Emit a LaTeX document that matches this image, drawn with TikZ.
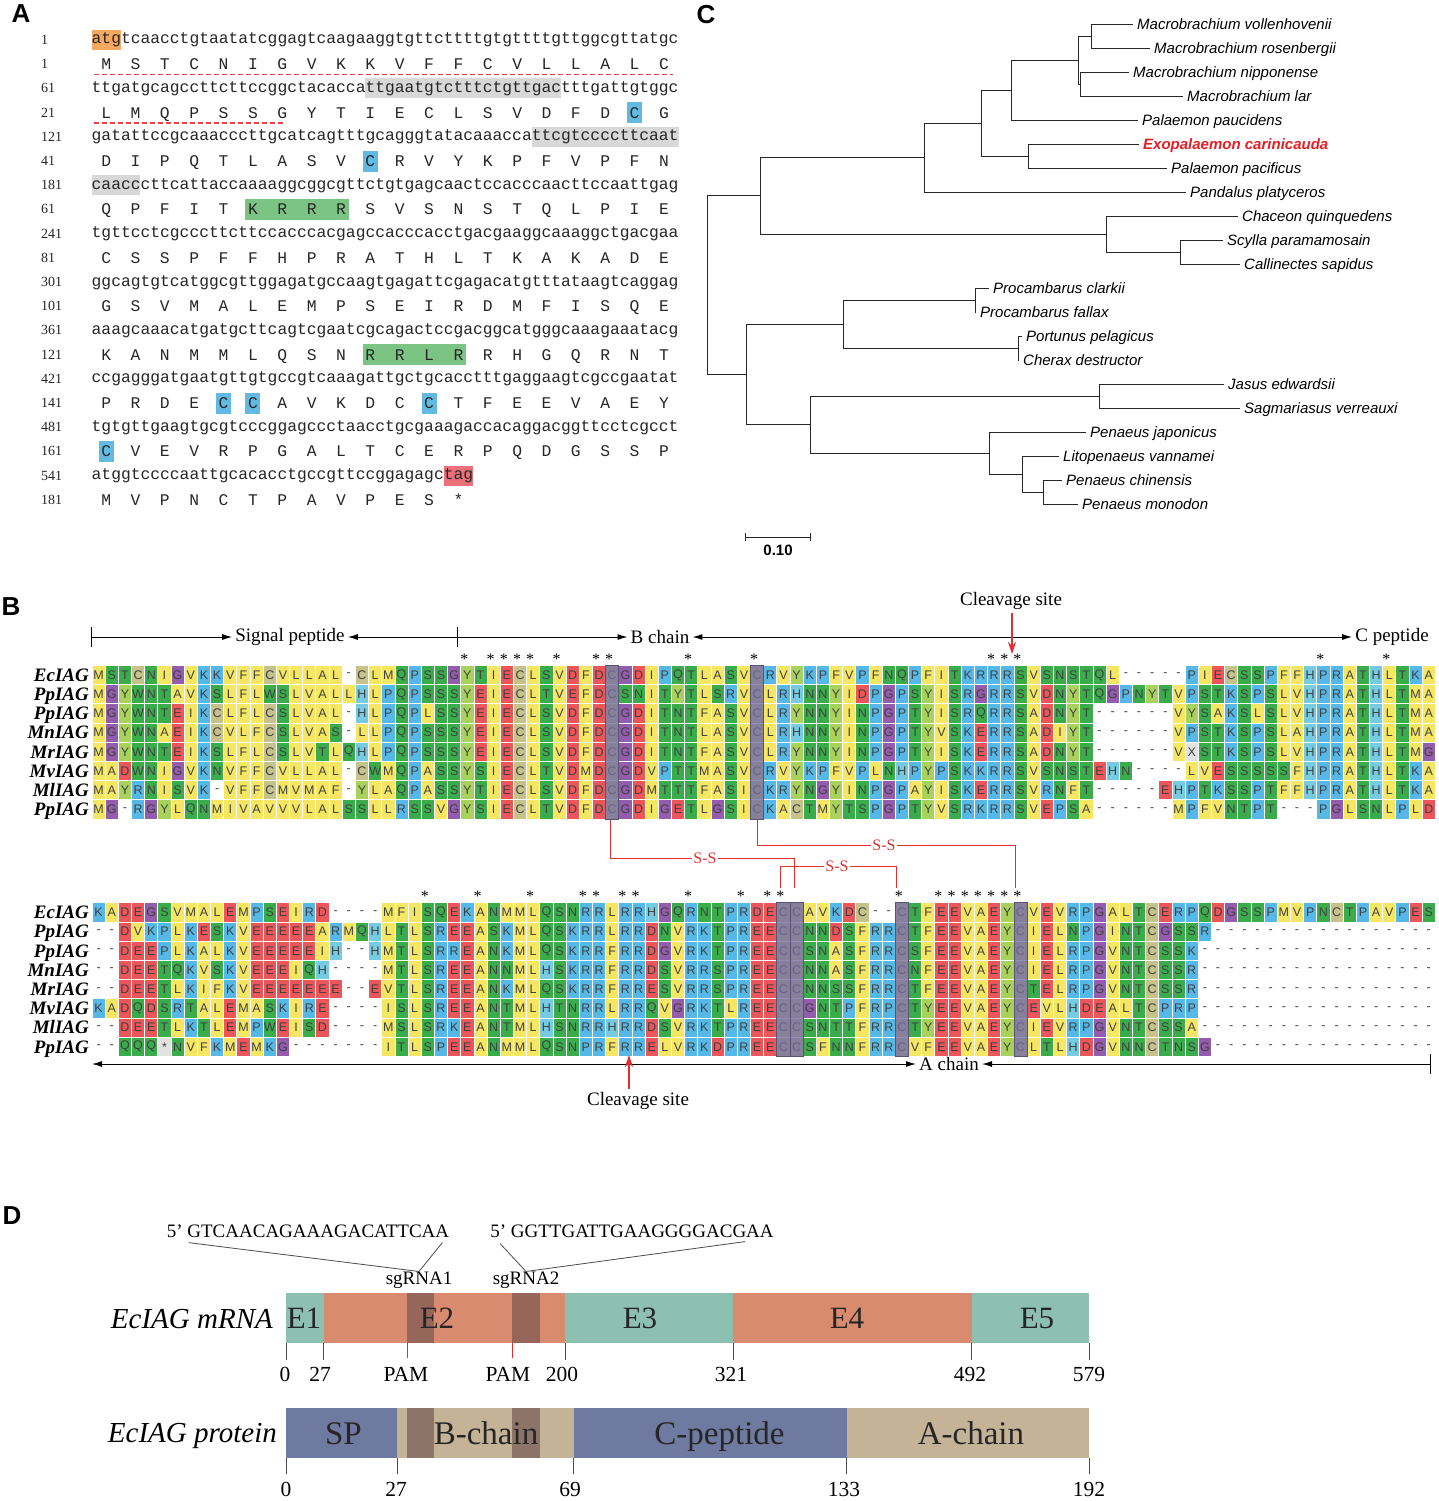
\documentclass[tikz,border=0pt]{standalone}
\usepackage{fontspec}
\setmainfont{Liberation Serif}
\setsansfont{Liberation Sans}
\newfontfamily\dnafont{Liberation Mono}
\usetikzlibrary{arrows.meta}

\definecolor{hyd}{RGB}{245,231,99}
\definecolor{pol}{RGB}{58,172,76}
\definecolor{cys}{RGB}{198,194,140}
\definecolor{gly}{RGB}{148,92,172}
\definecolor{bas}{RGB}{86,184,230}
\definecolor{his}{RGB}{118,203,224}
\definecolor{tyr}{RGB}{168,210,92}
\definecolor{acd}{RGB}{234,86,90}
\definecolor{unk}{RGB}{226,226,226}
\definecolor{cysbar}{RGB}{116,110,158}
\definecolor{hlorange}{RGB}{244,168,98}
\definecolor{hlgrey}{RGB}{216,216,216}
\definecolor{hlblue}{RGB}{98,186,226}
\definecolor{hlgreen}{RGB}{124,196,132}
\definecolor{hlred}{RGB}{236,112,122}
\definecolor{sigred}{RGB}{236,64,76}
\definecolor{ssred}{RGB}{226,48,48}
\definecolor{exteal}{RGB}{142,192,178}
\definecolor{exsalmon}{RGB}{217,139,112}
\definecolor{expatch}{RGB}{150,102,90}
\definecolor{protslate}{RGB}{111,122,160}
\definecolor{prottan}{RGB}{197,179,152}
\definecolor{protpatch}{RGB}{140,117,104}
\definecolor{exored}{RGB}{232,30,36}

\newcommand\fs[1]{\fontsize{#1}{#1}\selectfont}

\makeatletter
\newcount\rescol
\newcommand\rescolor[2]{\expandafter\gdef\csname rc@#1\endcsname{#2}}
% one alignment row: y, residues
\newcommand\alnrow[2]{\global\rescol=0 \def\alny{#1}\expandafter\aln@next#2\relax}
\def\aln@next#1{\ifx\relax#1\expandafter\@gobble\else\expandafter\@firstofone\fi{\alncell{#1}\aln@next}}
\def\alncell#1{\global\advance\rescol by 1
  \ifcsname rc@#1\endcsname\edef\cellcol{\csname rc@#1\endcsname}\else\def\cellcol{none}\fi
  \node[res,fill=\cellcol] at ({92+13.17*(\the\rescol-0.5)},\alny) {#1};}
% one translated row under the codons
\newcommand\aarow[2]{\global\rescol=0 \def\aay{#1}\expandafter\aa@next#2\relax}
\def\aa@next#1{\ifx\relax#1\expandafter\@gobble\else\expandafter\@firstofone\fi{\aacell{#1}\aa@next}}
\def\aacell#1{\global\advance\rescol by 1
  \node[aa] at ({91.5+9.785*(3*\the\rescol-1.5)},\aay+5.4) {#1};}
\makeatother
\newcommand\nthl[4]{\fill[#1] ({91.5+9.785*(#3-1)},{#2-10}) rectangle ({91.5+9.785*#4},{#2+10});}
\newcommand\aahl[4]{\fill[#1] ({91.5+9.785*(3*#3-1.5)-7.5},{#2-10.5}) rectangle ({91.5+9.785*(3*#4-1.5)+7.5},{#2+10.5});}

\foreach \r in {A,V,L,I,M,F} {\rescolor{\r}{hyd}}
\foreach \r in {S,T,N,Q,W} {\rescolor{\r}{pol}}
\foreach \r in {K,R,P} {\rescolor{\r}{bas}}
\foreach \r in {D,E} {\rescolor{\r}{acd}}
\foreach \r in {X,*} {\rescolor{\r}{unk}}
\rescolor{C}{cys}
\rescolor{G}{gly}
\rescolor{H}{his}
\rescolor{Y}{tyr}

\begin{document}
\begin{tikzpicture}[x=1pt,y=-1pt]
\tikzstyle{res}=[draw=white,line width=0.8pt,minimum width=13.17pt,minimum height=19.2pt,inner sep=0pt,text=black!75,font=\sffamily\fs{12.5}]
\tikzstyle{lab}=[anchor=base east,inner sep=0pt,font=\bfseries\itshape\fs{19}]
\tikzstyle{conssym}=[inner sep=0pt,font=\fs{16}]
\tikzstyle{cysbar}=[fill=cysbar,fill opacity=0.78,draw=cysbar!75!black,line width=0.8pt]
\tikzstyle{ann}=[inner sep=3pt,font=\fs{19}]
\tikzstyle{annarr}=[line width=1pt]
\tikzstyle{tickln}=[line width=1pt]
\tikzstyle{cutarr}=[ssred,line width=1.3pt,-{Stealth[length=12pt,width=8pt]}]
\tikzstyle{ssbond}=[ssred,line width=0.8pt]
\tikzstyle{sslab}=[fill=white,inner sep=1pt,text=ssred,font=\fs{16}]
\tikzstyle{dna}=[anchor=base west,inner sep=0pt,text=black!85,font=\dnafont\fs{16.3}]
\tikzstyle{aa}=[anchor=base,inner sep=0pt,text=black!85,font=\dnafont\fs{16.3}]
\tikzstyle{num}=[anchor=west,inner sep=0pt,text=black!85,font=\fs{14}]
\tikzstyle{sigline}=[sigred,line width=1.2pt,dash pattern=on 5pt off 3pt]
\tikzstyle{branch}=[black!85,line width=0.9pt]
\tikzstyle{leaf}=[anchor=west,inner xsep=4pt,inner ysep=0pt,text height=10.7pt,text depth=0pt,font=\sffamily\itshape\fs{15}]
\tikzstyle{panel}=[inner sep=0pt,font=\sffamily\bfseries\fs{26}]
\tikzstyle{seqlab}=[inner sep=0pt,font=\fs{19}]
\tikzstyle{guide}=[black!70,line width=0.8pt]
\tikzstyle{barlab}=[anchor=base,inner sep=0pt,text=black!85,font=\fs{31}]
\tikzstyle{protlab}=[anchor=base,inner sep=0pt,text=black!85,font=\fs{33}]
\tikzstyle{rowname}=[anchor=base east,inner sep=0pt,font=\itshape\fs{29}]
\tikzstyle{posnum}=[inner sep=0pt,font=\fs{21.5}]
\tikzstyle{tickd}=[black!70,line width=0.7pt]
\tikzstyle{pamtick}=[ssred,line width=0.8pt]

\useasboundingbox (0,0) rectangle (1439,1501);
\fill[white] (0,0) rectangle (1439,1501);

\node[panel] at (21,14) {A};
\node[panel] at (706,15) {C};
\node[panel] at (11,607) {B};
\node[panel] at (12,1216) {D};

% A: cDNA and deduced protein
\nthl{hlorange}{40}{1}{3}
\nthl{hlgrey}{88.4}{29}{48}
\nthl{hlgrey}{136.8}{46}{60}
\nthl{hlgrey}{185.2}{1}{5}
\nthl{hlred}{475.6}{37}{39}
\aahl{hlblue}{112.6}{19}{19}
\aahl{hlblue}{161}{10}{10}
\aahl{hlgreen}{209.4}{6}{9}
\aahl{hlgreen}{354.6}{10}{13}
\aahl{hlblue}{403}{5}{5}
\aahl{hlblue}{403}{6}{6}
\aahl{hlblue}{403}{12}{12}
\aahl{hlblue}{451.4}{1}{1}
\draw[sigline] (94,74.5) -- (673,74.5);
\draw[sigline] (94,123) -- (286,123);

\foreach \nn/\dna/\mm/\pep [count=\k from 0] in {
 1/atgtcaacctgtaatatcggagtcaagaaggtgttcttttgtgttttgttggcgttatgc/1/MSTCNIGVKKVFFCVLLALC,
 61/ttgatgcagccttcttccggctacaccattgaatgtctttctgttgactttgattgtggc/21/LMQPSSGYTIECLSVDFDCG,
 121/gatattccgcaaacccttgcatcagtttgcagggtatacaaaccattcgtccccttcaat/41/DIPQTLASVCRVYKPFVPFN,
 181/caacccttcattaccaaaaggcggcgttctgtgagcaactccacccaacttccaattgag/61/QPFITKRRRSVSNSTQLPIE,
 241/tgttcctcgcccttcttccacccacgagccacccacctgacgaaggcaaaggctgacgaa/81/CSSPFFHPRATHLTKAKADE,
 301/ggcagtgtcatggcgttggagatgccaagtgagattcgagacatgtttataagtcaggag/101/GSVMALEMPSEIRDMFISQE,
 361/aaagcaaacatgatgcttcagtcgaatcgcagactccgacggcatgggcaaagaaatacg/121/KANMMLQSNRRLRRHGQRNT,
 421/ccgagggatgaatgttgtgccgtcaaagattgctgcacctttgaggaagtcgccgaatat/141/PRDECCAVKDCCTFEEVAEY,
 481/tgtgttgaagtgcgtcccggagccctaacctgcgaaagaccacaggacggttcctcgcct/161/CVEVRPGALTCERPQDGSSP,
 541/atggtccccaattgcacacctgccgttccggagagctag/181/MVPNCTPAVPES*}{
  \pgfmathsetmacro\ydna{40+48.4*\k}
  \pgfmathsetmacro\yaa{64.2+48.4*\k}
  \node[num] at (41,\ydna) {\nn};
  \node[num] at (41,\yaa) {\mm};
  \node[dna] at (91.5,\ydna+4) {\dna};
  \aarow{\yaa}{\pep}
}

% C: tree
\node[leaf] (voll) at (1133,24) {Macrobrachium vollenhovenii};
\node[leaf] (ros) at (1150,48) {Macrobrachium rosenbergii};
\node[leaf] (nip) at (1129,72) {Macrobrachium nipponense};
\node[leaf] (lar) at (1183,96) {Macrobrachium lar};
\node[leaf] (pauc) at (1138,120) {Palaemon paucidens};
\node[leaf,text=exored,font=\sffamily\bfseries\itshape\fs{15}] (exo) at (1139,144) {Exopalaemon carinicauda};
\node[leaf] (pac) at (1167,168) {Palaemon pacificus};
\node[leaf] (pand) at (1186,192) {Pandalus platyceros};
\node[leaf] (chac) at (1238,216) {Chaceon quinquedens};
\node[leaf] (scy) at (1223,240) {Scylla paramamosain};
\node[leaf] (cal) at (1240,264) {Callinectes sapidus};
\node[leaf] (pcla) at (989,288) {Procambarus clarkii};
\node[leaf] (pfal) at (976,312) {Procambarus fallax};
\node[leaf] (port) at (1022,336) {Portunus pelagicus};
\node[leaf] (cher) at (1019,360) {Cherax destructor};
\node[leaf] (jas) at (1224,384) {Jasus edwardsii};
\node[leaf] (sag) at (1240,408) {Sagmariasus verreauxi};
\node[leaf] (pjap) at (1086,432) {Penaeus japonicus};
\node[leaf] (lit) at (1059,456) {Litopenaeus vannamei};
\node[leaf] (pchi) at (1062,480) {Penaeus chinensis};
\node[leaf] (pmon) at (1078,504) {Penaeus monodon};

\coordinate (nvr) at (1091,36);
\coordinate (nnl) at (1080,84);
\coordinate (nmac) at (1078,60);
\coordinate (nmp) at (1011,90);
\coordinate (nep) at (1028,156);
\coordinate (npal) at (981,123);
\coordinate (npan) at (924,157.5);
\coordinate (nsc) at (1180,252);
\coordinate (ncrab) at (1106,234);
\coordinate (ntop) at (760,195.75);
\coordinate (npro) at (975,300);
\coordinate (npc) at (1018,348);
\coordinate (nast) at (843,324);
\coordinate (njs) at (1099,396);
\coordinate (ncm) at (1043,492);
\coordinate (nlit) at (1022,474);
\coordinate (npen) at (989,453);
\coordinate (nlow) at (810,424.5);
\coordinate (nbot) at (746,374.25);
\coordinate (root) at (707,285);

\foreach \p/\c in {root/ntop,root/nbot,ntop/npan,ntop/ncrab,npan/npal,npan/pand.west,
  npal/nmp,npal/nep,nmp/nmac,nmp/pauc.west,nmac/nvr,nmac/nnl,nvr/voll.west,nvr/ros.west,
  nnl/nip.west,nnl/lar.west,nep/exo.west,nep/pac.west,ncrab/chac.west,ncrab/nsc,
  nsc/scy.west,nsc/cal.west,nbot/nast,nbot/nlow,nast/npro,nast/npc,npro/pcla.west,
  npro/pfal.west,npc/port.west,npc/cher.west,nlow/njs,nlow/npen,njs/jas.west,njs/sag.west,
  npen/pjap.west,npen/nlit,nlit/lit.west,nlit/ncm,ncm/pchi.west,ncm/pmon.west}
  \draw[branch] (\p) |- (\c);

\coordinate (sb0) at (745,537);
\coordinate (sb1) at (810,537);
\draw[branch] (sb0) -- (sb1);
\draw[branch] (745,533) -- (745,541) (810,533) -- (810,541);
\node[inner sep=0pt,font=\sffamily\bfseries\fs{15}] (sbl) at (778,550) {0.10};

% B: alignment
\node[ann] (sig) at (290,637) {Signal peptide};
\node[ann] (bch) at (660,637) {B chain};
\node[ann] (cpep) at (1392,637) {C peptide};
\coordinate (t0) at (91,637);
\coordinate (t1) at (457,637);
\draw[tickln] (91,627) -- (91,647) (457,627) -- (457,647);
\draw[annarr,-{Latex[length=10pt,width=6pt]}] (t0) -- (sig.west);
\draw[annarr,-{Latex[length=10pt,width=6pt]}] (t1) -- (sig.east);
\draw[annarr,-{Latex[length=10pt,width=6pt]}] (t1) -- (bch.west);
\draw[annarr,{Latex[length=10pt,width=6pt]}-{Latex[length=10pt,width=6pt]}] (bch.east) -- (cpep.west);
\node[ann] (cl1) at (1011,601) {Cleavage site};
\coordinate (cut1) at (1012,654);
\draw[cutarr] (cl1.south -| cut1) -- (cut1);

\foreach \nm/\sq [count=\ri from 0] in {
 EcIAG/MSTCNIGVKKVFFCVLLAL-CLMQPSSGYTIECLSVDFDCGDIPQTLASVCRVYKPFVPFNQPFITKRRRSVSNSTQL-----PIECSSPFFHPRATHLTKA,
 PpIAG/MGYWNTAVKSLFLWSLVALLHLPQPSSSYEIECLTVEFDCSNITYTLSRVCLRHNNYIDPGPSYISRGRRSVDNYTQGPNYTVPSTKSPSLVHPRATHLTMA,
 PpIAG/MGYWNTEIKCLFLCSLVAL-HLPQPLSSYEIECLSVDFDCGDITNTFASVCLRYNNYINPGPTYISRQRRSADNYT------VYSAKSLSLVHPRATHLTMA,
 MnIAG/MGYWNAEIKCVLFCSLVAS-LLPQPSSSYEIECLSVDFDCGDITNTLASVCLRHNNYINPGPTYVSKERRSADIYT------VPSTKSPSLAHPRATHLTMA,
 MrIAG/MGYWNTEIKSLFLCSLVTLQHLPQPSSSYEIECLSVDFDCGDITNTFASVCLRYNNYINPGPTYISKERRSADNYT------VXSTKSPSLVHPRATHLTMG,
 MvIAG/MADWNIGVKNVFFCVLLAL-CWMQPASSYSIECLTVDMDCGDVPTTMASVCRVYKPFVPLNHPYPSKKRRSVSNSTEHN----LVESSSSSFHPRATHLTKA,
 MlIAG/MAYRNISVK-VFFCMVMAF-YLAQPASSYTIECLSVDFDCGDMTTTFASICKRYNGYINPGPAYISKERRSVRNFT-----EHPTKSSPTFFHPRATHLTKA,
 PpIAG/MG-RGYLQNMIVAVVVLALSSLLRSSVGYSIECLTVDFDCGDIGETLGSICKACTMYTSPGPTYVSRKRRSVEPSA------MPFVNTPT---PGLSNLPLD}{
  \pgfmathsetmacro\rowy{675+19.2*\ri}
  \node[lab] at (89,\rowy+6.3) {\nm};
  \alnrow{\rowy}{\sq}
}
\foreach \c in {40,51}
  \draw[cysbar] ({92+13.17*(\c-1)},665.4) rectangle ++(13.17,154);
\foreach \c in {29,31,32,33,34,36,39,40,46,51,69,70,71,94,99}
  \node[conssym] at ({92+13.17*(\c-0.5)-3},659.5) {*};

\foreach \nm/\sq [count=\ri from 0] in {
 EcIAG/KADEGSVMALEMPSEIRD----MFISQEKANMMLQSNRRLRRHGQRNTPRDECCAVKDC--CTFEEVAEYCVEVRPGALTCERPQDGSSPMVPNCTPAVPES,
 PpIAG/--DVKPLKESKVEEEEEARMQHLTLSREEASKMLQSKRRLRRDNVRKTPREECCNNDSFRRCTFEEVAEYCIELNPGINTCGSSR-----------------,
 PpIAG/--DEEPLKALKVEEEEEIH--HMTLSRREANKMLQSKRRFRRDGVRKTPREECCSNASFRRCSFEEVAEYCIELRPGVNTCSSK------------------,
 MnIAG/--DEETQKVSKVEEEIQH----MTLSREEANNMLHSKRRFRRDSVRRSPREECCNNASFRRCNFEEVAEYCIELRPGVNTCSSR------------------,
 MrIAG/--DEETLKIFKVEEEEEEE--EVTLSREEANKMLQSKRRFRRESVRRSPREECCNNSSFRRCTFEEVAEYCTELRPGVNTCSSR------------------,
 MvIAG/KADQDSRTALEMASKIRE----ISLSREEANTMLHTNRRLRRQVGRKTLREECCGNTPFRPCTYEEVAEYCEVLHDEALTCPRP------------------,
 MlIAG/--DEETLKTLEMPWEISD----MSLSRKEANTMLHSNRRHRRDSVRKTPREECCSNTTFRRCTYEEVAEYCIEVRPGVNTCSSA------------------,
 PpIAG/--QQQ*NVFKMEMKG-------ITLSPEEANMMLQSNPRFRRELVRKDPREECCSFNNFRRCVFEEVAEYCLTLHDGVNNCTNSG-----------------}{
  \pgfmathsetmacro\rowy{912.3+19.2*\ri}
  \node[lab] at (89,\rowy+6.3) {\nm};
  \alnrow{\rowy}{\sq}
}
\foreach \c in {53,54,62,71}
  \draw[cysbar] ({92+13.17*(\c-1)},902.7) rectangle ++(13.17,154);
\foreach \c in {26,30,34,38,39,41,42,46,50,52,53,62,65,66,67,68,69,70,71}
  \node[conssym] at ({92+13.17*(\c-0.5)-3},896.5) {*};

% disulfide bonds
\coordinate (ssB1) at (610,820);
\coordinate (ssB2) at (757,820);
\coordinate (ssA1) at (780,888);
\coordinate (ssA2) at (794,888);
\coordinate (ssA3) at (896,888);
\coordinate (ssA4) at (1015,888);
\draw[ssbond] (ssB2) -- ++(0,25) -| (ssA4);
\draw[ssbond] (ssA1) -- ++(0,-22) -| (ssA3);
\draw[ssbond] (ssB1) -- ++(0,38) -| (ssA2);
\node[sslab] at (705,858) {S-S};
\node[sslab] at (884,845) {S-S};
\node[sslab] at (837,866) {S-S};

\node[ann] (ach) at (949,1064) {A chain};
\coordinate (a0) at (92,1064);
\coordinate (a1) at (1430,1064);
\draw[annarr,{Latex[length=10pt,width=6pt]}-{Latex[length=10pt,width=6pt]}] (a0) -- (ach.west);
\draw[annarr,{Latex[length=10pt,width=6pt]}-] (ach.east) -- (a1);
\draw[tickln] (1430,1054) -- (1430,1074);
\node[ann] (cl2) at (638,1101) {Cleavage site};
\coordinate (cut2) at (629,1055);
\draw[cutarr] (cl2.north -| cut2) -- (cut2);

% D: gene and protein
\node[seqlab] (g1seq) at (308,1231) {5’ GTCAACAGAAAGACATTCAA};
\node[seqlab] (g2seq) at (632,1231) {5’ GGTTGATTGAAGGGGACGAA};
\node[seqlab] (g1) at (419,1280) {sgRNA1};
\node[seqlab] (g2) at (526,1280) {sgRNA2};
\draw[guide] ([xshift=22pt,yshift=-5pt]g1seq.south west) -- (g1.north);
\draw[guide] ([xshift=-7pt,yshift=-5pt]g1seq.south east) -- (g1.north);
\draw[guide] ([xshift=10pt,yshift=-6pt]g2seq.south west) -- (g2.north);
\draw[guide] ([xshift=-29pt,yshift=-4pt]g2seq.south east) -- (g2.north);

\foreach \a/\b/\c in {286/323.5/exteal,323.5/565/exsalmon,565/733/exteal,733/971.5/exsalmon,971.5/1089/exteal}
  \fill[\c] (\a,1293) rectangle (\b,1343);
\foreach \a/\b in {407/434,512/540}
  \fill[expatch] (\a,1293) rectangle (\b,1343);
\foreach \x/\t in {304/E1,437/E2,640/E3,847/E4,1037/E5}
  \node[barlab] at (\x,1328.5) {\t};
\node[rowname] at (273,1328.5) {EcIAG mRNA};
\foreach \x/\lx/\t in {286/285/0,323.5/320/27,565/562/200,733/731/321,971.5/970/492,1089/1089/579}{
  \draw[tickd] (\x,1343) -- (\x,1360);
  \node[posnum] at (\lx,1374.5) {\t};}
\foreach \x/\lx in {407/406,512/508}{
  \draw[pamtick] (\x,1343) -- (\x,1358);
  \node[posnum] at (\lx,1374.5) {PAM};}

\foreach \a/\b/\c in {286/397/protslate,397/573.5/prottan,573.5/846.5/protslate,846.5/1089/prottan}
  \fill[\c] (\a,1408) rectangle (\b,1458);
\foreach \a/\b in {407/434,512/540}
  \fill[protpatch] (\a,1408) rectangle (\b,1458);
\foreach \x/\t in {343.5/SP,486/B-chain,719.5/C-peptide,971/A-chain}
  \node[protlab] at (\x,1444) {\t};
\node[rowname] at (277,1442) {EcIAG protein};
\foreach \x/\lx/\t in {286/286/0,397/396/27,573.5/570/69,846.5/844/133,1089/1089/192}{
  \draw[tickd] (\x,1458) -- (\x,1474);
  \node[posnum] at (\lx,1489) {\t};}
\end{tikzpicture}
\end{document}
